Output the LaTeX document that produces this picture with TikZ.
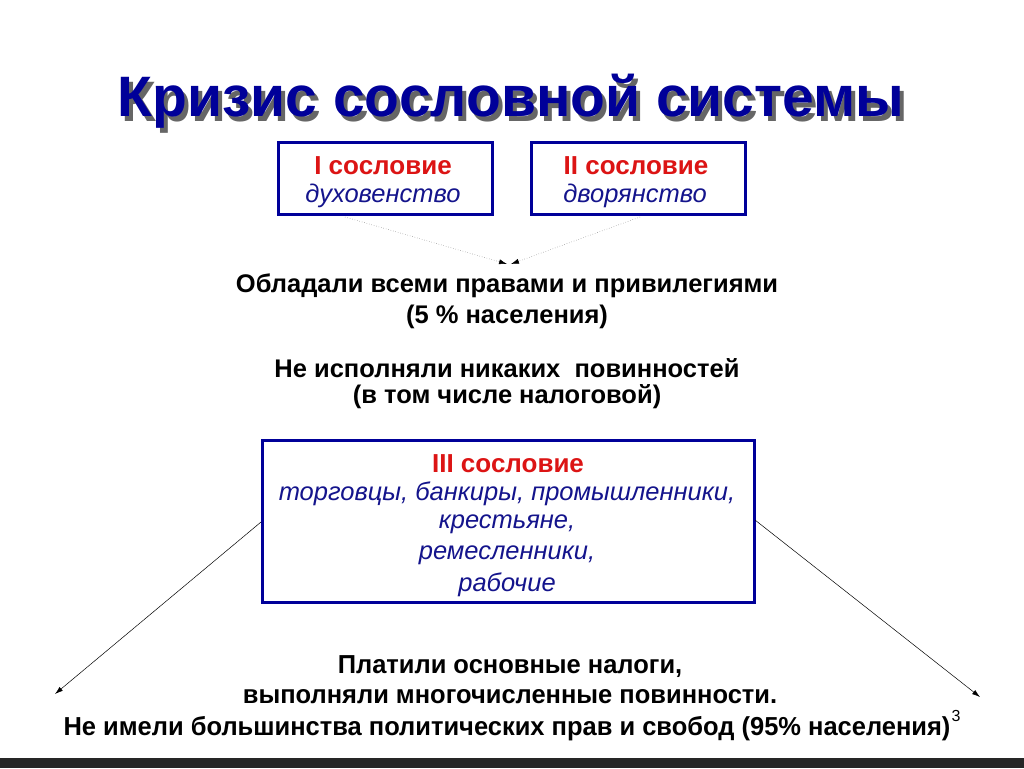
\documentclass[tikz,border=0pt]{standalone}
\usepackage{fontspec}
\setmainfont{Liberation Sans}
\usetikzlibrary{arrows.meta}
\definecolor{tblue}{RGB}{0,0,153}
\definecolor{tred}{RGB}{220,20,20}
\definecolor{iblue}{RGB}{20,20,140}
\begin{document}
\begin{tikzpicture}[x=1pt,y=-1pt,
  est/.style={draw=tblue,line width=3pt,inner sep=0pt},
  txt/.style={font=\fontsize{25.5}{30}\selectfont\bfseries,align=center},
  red/.style={font=\fontsize{26}{30}\selectfont\bfseries,text=tred},
  it/.style={font=\fontsize{25.5}{30}\selectfont\itshape,text=iblue},
  btm/.style={font=\fontsize{26}{30}\selectfont\bfseries,xscale=0.98,align=center},
  conn/.style={-{Latex[length=8pt,width=5pt,black]},line width=0.5pt}]
\useasboundingbox (0,0) rectangle (1024,768);
\fill[white] (0,0) rectangle (1024,768);
\fill[black!85] (0,758) rectangle (1024,768);
% title
\node[font=\fontsize{57}{64}\selectfont\bfseries,text=black!60] at (515,106) {Кризис сословной системы};
\node[font=\fontsize{57}{64}\selectfont\bfseries,text=tblue] (title) at (511,101) {Кризис сословной системы};
% boxes
\node[est,minimum width=214,minimum height=72] (b1) at (385,178) {};
\node[red] at (383,166) {I сословие};
\node[it] at (383,196) {духовенство};
\node[est,minimum width=214,minimum height=72] (b2) at (638,178) {};
\node[red] at (636,166) {II сословие};
\node[it] at (635,196) {дворянство};
\coordinate (t1) at (507,264);
\coordinate (t2) at (511,264);
\draw[conn,dotted,gray] (345,217) -- (t1);
\draw[conn,dotted,gray] (640,217) -- (t2);
\node[txt] (p1) at (507,286) {Обладали всеми правами и привилегиями};
\node[txt] (p2) at (507,317) {(5 \% населения)};
\node[txt] (p3) at (507,368) {Не исполняли никаких \ повинностей};
\node[txt] (p4) at (507,397) {(в том числе налоговой)};
\node[est,minimum width=492,minimum height=162] (b3) at (508,521) {};
\node[red] at (508,464) {III сословие};
\node[it] at (507,494) {торговцы, банкиры, промышленники,};
\node[it] at (507,524) {крестьяне,};
\node[it] at (507,555) {ремесленники,};
\node[it] at (507,585) {рабочие};
\coordinate (l) at (55,694);
\coordinate (r) at (980,697);
\draw[conn] (261,522) -- (l);
\draw[conn] (755,520) -- (r);
\node[btm] at (510,667) {Платили основные налоги,};
\node[btm] at (510,697) {выполняли многочисленные повинности.};
\node[btm] at (507,729) {Не имели большинства политических прав и свобод (95\% населения)};
\node[font=\fontsize{16}{18}\selectfont] at (956,716) {3};
\end{tikzpicture}
\end{document}
